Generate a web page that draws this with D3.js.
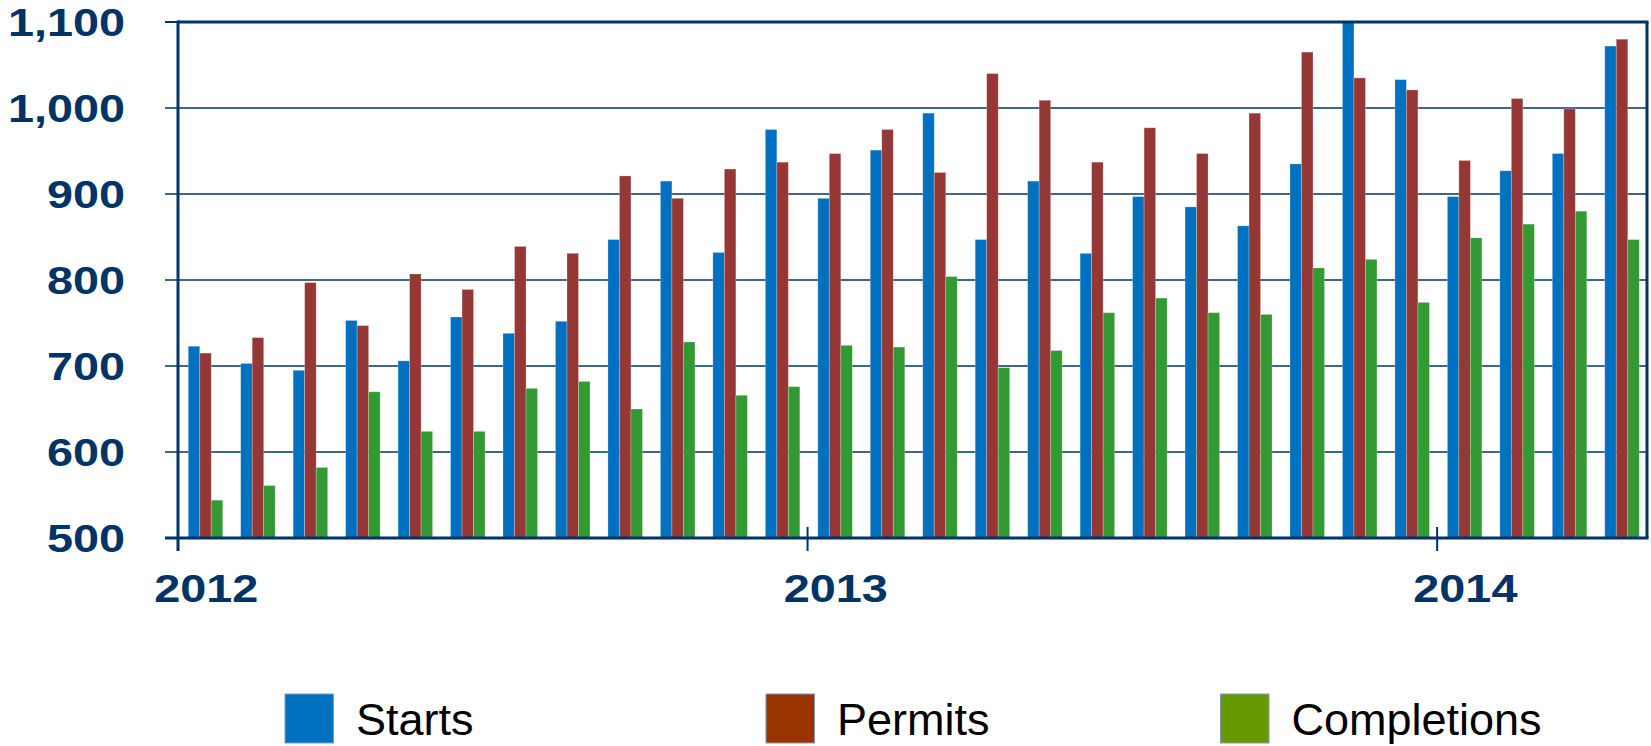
<!DOCTYPE html>
<html>
<head>
<meta charset="utf-8">
<script src="https://cdn.jsdelivr.net/npm/d3@7/dist/d3.min.js"></script>
<style>
  html, body { margin: 0; padding: 0; background: #ffffff; }
  svg { display: block; }
</style>
</head>
<body>
<svg id="chart" width="1651" height="746"></svg>
<script>
// ---------------- data ----------------
const months = [
  "Jan 2012","Feb 2012","Mar 2012","Apr 2012","May 2012","Jun 2012","Jul 2012","Aug 2012","Sep 2012","Oct 2012","Nov 2012","Dec 2012",
  "Jan 2013","Feb 2013","Mar 2013","Apr 2013","May 2013","Jun 2013","Jul 2013","Aug 2013","Sep 2013","Oct 2013","Nov 2013","Dec 2013",
  "Jan 2014","Feb 2014","Mar 2014","Apr 2014"
];
const starts      = [723,703,695,753,706,757,738,752,847,915,832,975,895,951,994,847,915,831,897,885,863,935,1100,1033,897,927,947,1072];
const permits     = [715,733,797,747,807,789,839,831,921,895,929,937,947,975,925,1040,1009,937,977,947,994,1065,1035,1021,939,1011,999,1080];
const completions = [544,561,582,670,624,624,674,682,650,728,666,676,724,722,804,698,718,762,779,762,760,814,824,774,849,865,880,847];
const seriesNames = ["Starts","Permits","Completions"];
const yTicks = [500,600,700,800,900,1000,1100];
const yearTicks = ["Jan 2012","Jan 2013","Jan 2014"];
const yearLabels = ["2012","2013","2014"];

(function () {
// ---------------- styles ----------------
const barColors = {"Starts":"#0070C0","Permits":"#953735","Completions":"#339933"};
const legendColors = {"Starts":"#0070C0","Permits":"#993300","Completions":"#669900"};
const navy = "#003366";

const svg = d3.select("#chart");
const pLeft = 178, pRight = 1647, pTop = 22, pBottom = 538;

const x0 = d3.scaleBand().domain(months).range([pLeft, pRight]).padding(0);
const x1 = d3.scaleBand().domain(seriesNames).range([0, x0.bandwidth()])
  .paddingInner(0).paddingOuter(0.78).align(0.57);
const y = d3.scaleLinear().domain([500, 1100]).range([pBottom, pTop]);

const valuesBySeries = {"Starts": starts, "Permits": permits, "Completions": completions};

// gridlines + y ticks
svg.append("g").selectAll("line").data(yTicks.slice(1, -1)).join("line")
  .attr("x1", pLeft - 13).attr("x2", pRight)
  .attr("y1", d => y(d)).attr("y2", d => y(d))
  .attr("stroke", navy).attr("stroke-width", 1.6);

// bars
const rows = months.map((m, i) => ({month: m, values: seriesNames.map(s => ({series: s, value: valuesBySeries[s][i]}))}));
const groups = svg.append("g").selectAll("g").data(rows).join("g")
  .attr("transform", d => `translate(${x0(d.month)},0)`);
groups.selectAll("rect").data(d => d.values).join("rect")
  .attr("x", d => x1(d.series))
  .attr("width", x1.bandwidth())
  .attr("y", d => y(d.value))
  .attr("height", d => y(500) - y(d.value))
  .attr("fill", d => barColors[d.series])
  .attr("stroke", "#ffffff").attr("stroke-opacity", 0.3).attr("stroke-width", 0.8);

// frame
svg.append("line").attr("x1", pLeft).attr("x2", pRight + 1.5).attr("y1", pTop).attr("y2", pTop)
  .attr("stroke", navy).attr("stroke-width", 3);
svg.append("line").attr("x1", pRight).attr("x2", pRight).attr("y1", pTop).attr("y2", pBottom)
  .attr("stroke", navy).attr("stroke-width", 3);
svg.append("line").attr("x1", pLeft).attr("x2", pLeft).attr("y1", pTop - 1.5).attr("y2", pBottom + 13)
  .attr("stroke", navy).attr("stroke-width", 3);
svg.append("line").attr("x1", pLeft - 13).attr("x2", pRight + 1.5).attr("y1", pBottom).attr("y2", pBottom)
  .attr("stroke", navy).attr("stroke-width", 3);
svg.append("line").attr("x1", pLeft - 13).attr("x2", pLeft).attr("y1", pTop).attr("y2", pTop)
  .attr("stroke", navy).attr("stroke-width", 2);

// y labels
svg.append("g").selectAll("text").data(yTicks).join("text")
  .attr("transform", d => `translate(125,${y(d)}) scale(1.2,1)`)
  .attr("text-anchor", "end").attr("dy", "0.36em")
  .attr("font-family", "'Liberation Sans', Arial, sans-serif")
  .attr("font-weight", "bold").attr("font-size", 39).attr("fill", navy)
  .text(d => d3.format(",")(d));

// x year ticks
svg.append("g").selectAll("line").data(yearTicks.slice(1)).join("line")
  .attr("x1", d => x0(d)).attr("x2", d => x0(d))
  .attr("y1", pBottom - 11).attr("y2", pBottom + 13)
  .attr("stroke", navy).attr("stroke-width", 2);

svg.append("g").selectAll("text").data(yearTicks).join("text")
  .attr("transform", d => `translate(${x0(d) + x0.bandwidth() / 2 + 2},602) scale(1.2,1)`)
  .attr("text-anchor", "middle")
  .attr("font-family", "'Liberation Sans', Arial, sans-serif")
  .attr("font-weight", "bold").attr("font-size", 39).attr("fill", navy)
  .text((d, i) => yearLabels[i]);

// legend
const legendX = {"Starts": 285, "Permits": 766, "Completions": 1220.5};
const lg = svg.append("g").selectAll("g").data(seriesNames).join("g")
  .attr("transform", d => `translate(${legendX[d]},694)`);
lg.append("rect").attr("width", 48.5).attr("height", 49)
  .attr("fill", d => legendColors[d]).attr("stroke", "#7f9bbd").attr("stroke-width", 1);
lg.append("text").attr("x", 71).attr("y", 41)
  .attr("font-family", "'Liberation Sans', Arial, sans-serif")
  .attr("font-size", 45).attr("fill", "#000000")
  .text(d => d);
})();
</script>
</body>
</html>
